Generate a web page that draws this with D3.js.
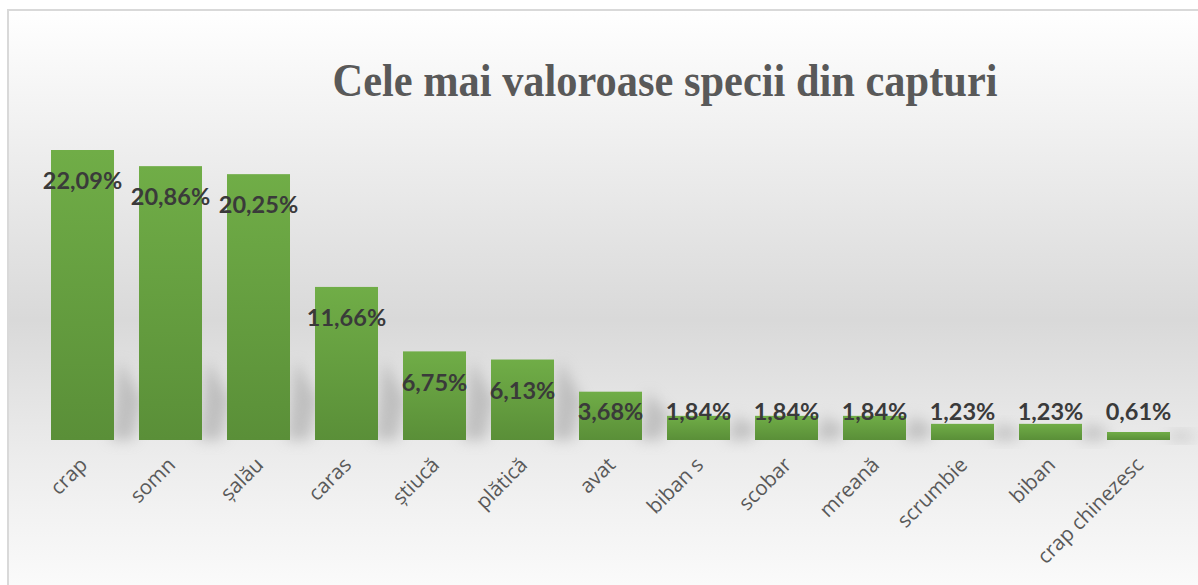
<!DOCTYPE html>
<html>
<head>
<meta charset="utf-8">
<title>Cele mai valoroase specii din capturi</title>
<style>
  html, body { margin: 0; padding: 0; background: #fff; }
  svg { display: block; }
</style>
</head>
<body>
<main></main>
<script src="https://cdn.jsdelivr.net/npm/d3@7/dist/d3.min.js"></script>
<script>
    // date
    var categories = ["crap", "somn", "șalău", "caras", "știucă", "plătică", "avat",
                      "biban s", "scobar", "mreană", "scrumbie", "biban", "crap chinezesc"];
    var values = [22.09, 20.86, 20.25, 11.66, 6.75, 6.13, 3.68, 1.84, 1.84, 1.84, 1.23, 1.23, 0.61];
    var title = "Cele mai valoroase specii din capturi";

    var width = 1198, height = 585;
    var baseline = 440;

    var svg = d3.select("main").append("svg")
        .attr("width", width)
        .attr("height", height);

    var defs = svg.append("defs");

    // fundal cu gradient gri
    var bg = defs.append("linearGradient")
        .attr("id", "bg").attr("x1", 0).attr("y1", 0).attr("x2", 0).attr("y2", 1);
    bg.append("stop").attr("offset", "0%").attr("stop-color", "#ffffff");
    bg.append("stop").attr("offset", "20%").attr("stop-color", "#f0f0f0");
    bg.append("stop").attr("offset", "50%").attr("stop-color", "#d9d9d9");
    bg.append("stop").attr("offset", "72%").attr("stop-color", "#ececec");
    bg.append("stop").attr("offset", "100%").attr("stop-color", "#ffffff");

    var barGrad = defs.append("linearGradient")
        .attr("id", "bar").attr("x1", 0).attr("y1", 0).attr("x2", 0).attr("y2", 1);
    barGrad.append("stop").attr("offset", "0%").attr("stop-color", "#70ad47");
    barGrad.append("stop").attr("offset", "100%").attr("stop-color", "#5a8f38");

    defs.append("filter").attr("id", "blur")
        .attr("x", "-50%").attr("y", "-50%").attr("width", "200%").attr("height", "200%")
        .append("feGaussianBlur").attr("stdDeviation", 7);

    svg.append("rect")
        .attr("x", 8).attr("y", 10)
        .attr("width", 1220).attr("height", 620)
        .attr("fill", "url(#bg)")
        .attr("stroke", "#d9d9d9")
        .attr("stroke-width", 2);

    var x = d3.scaleBand()
        .domain(categories)
        .range([38.5, 1182.5])
        .paddingInner(0.284)
        .paddingOuter(0.142);

    var y = d3.scaleLinear()
        .domain([0, 22.09])
        .range([baseline, 150]);

    // umbra in perspectiva
    svg.append("g").selectAll("path")
        .data(values)
        .enter()
        .append("path")
        .attr("d", function (d, i) {
            var x0 = x(categories[i]) + x.bandwidth();
            var h = Math.min(baseline - y(d), 80);
            return "M" + (x0 - 4) + "," + baseline +
                   "L" + (x0 + 20) + "," + baseline +
                   "L" + (x0 + 28) + "," + (baseline - h * 0.5) +
                   "L" + (x0 + 6) + "," + (baseline - h) + "Z";
        })
        .attr("fill", "#9a9a9a")
        .attr("opacity", 0.5)
        .attr("filter", "url(#blur)");

    svg.append("g").selectAll("rect")
        .data(values)
        .enter()
        .append("rect")
        .attr("x", function (d, i) { return x(categories[i]); })
        .attr("y", function (d) { return y(d); })
        .attr("width", x.bandwidth())
        .attr("height", function (d) { return baseline - y(d); })
        .attr("fill", "url(#bar)");

    // etichete de valori
    svg.append("g").selectAll("text")
        .data(values)
        .enter()
        .append("text")
        .attr("x", function (d, i) { return x(categories[i]) + x.bandwidth() / 2; })
        .attr("y", function (d) { return Math.min(y(d) + 31, 412); })
        .attr("dy", "0.35em")
        .attr("text-anchor", "middle")
        .attr("font-family", "Lato, 'Open Sans', sans-serif")
        .attr("font-weight", "bold")
        .attr("font-size", "23.5px")
        .attr("fill", "#3a3a3a")
        .text(function (d) { return d.toFixed(2).replace(".", ",") + "%"; });

    // etichete categorii rotite
    svg.append("g").selectAll("text")
        .data(categories)
        .enter()
        .append("text")
        .attr("transform", function (d) {
            return "translate(" + (x(d) + x.bandwidth() / 2 + 1) + "," + 461 + ") rotate(-45)";
        })
        .attr("text-anchor", "end")
        .attr("dy", "0.35em")
        .attr("font-family", "'Open Sans', 'Noto Sans', sans-serif")
        .attr("font-size", "20.5px")
        .attr("fill", "#595959")
        .text(function (d) { return d; });

    svg.append("text")
        .attr("x", 665)
        .attr("y", 96)
        .attr("text-anchor", "middle")
        .attr("font-family", "'Liberation Serif', 'Times New Roman', serif")
        .attr("font-weight", "bold")
        .attr("font-size", "47px")
        .attr("textLength", 665)
        .attr("lengthAdjust", "spacingAndGlyphs")
        .attr("fill", "#595959")
        .text(title);
</script>
</body>
</html>
